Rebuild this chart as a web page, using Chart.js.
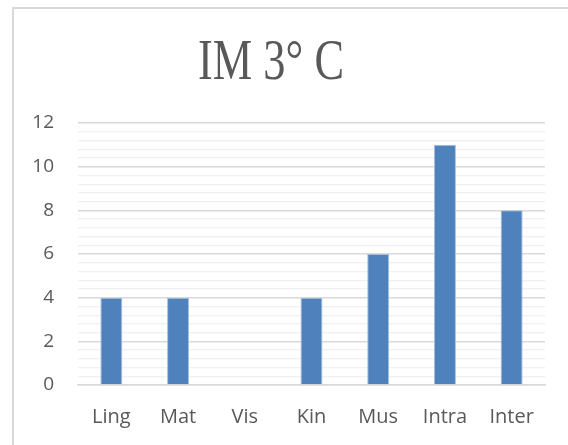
<!DOCTYPE html>
<html>
<head>
<meta charset="utf-8">
<script src="https://cdn.jsdelivr.net/npm/chart.js@4"></script>
<style>
  html, body { margin: 0; padding: 0; background: #fff; overflow: hidden; }
  #frame { position: absolute; left: 12px; top: 7px; width: 620px; height: 500px;
           border-left: 2px solid #d9d9d9; border-top: 2px solid #d9d9d9; }
  #wrap { position: absolute; left: 0; top: 0; width: 568px; height: 445px; }
</style>
</head>
<body>
<div id="frame"></div>
<div id="wrap"><canvas id="c" width="568" height="445"></canvas></div>
<script>
const categories = ["Ling", "Mat", "Vis", "Kin", "Mus", "Intra", "Inter"];
const values = [4, 4, 0, 4, 6, 11, 8];
const yMin = 0, yMax = 12, majorStep = 2, minorStep = 0.4;
const titleText = "IM 3° C";

const titlePlugin = {
  id: "condensedTitle",
  afterDraw(chart) {
    const ctx = chart.ctx;
    ctx.save();
    ctx.font = '57px "Liberation Serif"';
    ctx.fillStyle = "#595959";
    ctx.textAlign = "center";
    ctx.textBaseline = "alphabetic";
    ctx.translate(271, 79);
    ctx.scale(146 / ctx.measureText(titleText).width, 1);
    ctx.fillText(titleText, 0, 0);
    ctx.restore();
  }
};

new Chart(document.getElementById("c"), {
  type: "bar",
  data: {
    labels: categories,
    datasets: [{
      data: values,
      backgroundColor: "#4f81bd",
      borderColor: "#a7bfdd",
      borderWidth: 1,
      borderSkipped: "bottom",
      categoryPercentage: 1,
      barPercentage: 0.33
    }]
  },
  plugins: [titlePlugin],
  options: {
    responsive: false,
    animation: false,
    layout: { padding: { left: 0, right: 23, top: 123, bottom: 0 } },
    plugins: {
      legend: { display: false },
      tooltip: { enabled: false },
      title: { display: false }
    },
    scales: {
      x: {
        grid: { display: false, drawTicks: false },
        border: { display: true, color: "#d9d9d9", width: 1.5 },
        ticks: { color: "#595959", font: { family: "Open Sans", size: 20 }, padding: 20 },
        afterFit(s) { s.height = 60; }
      },
      y: {
        min: yMin, max: yMax,
        afterFit(s) { s.width = 78; },
        border: { display: false },
        grid: {
          drawTicks: false,
          color(ctx) {
            const v = Math.round(ctx.tick.value * 10);
            return v % (majorStep * 10) === 0 ? "#d9d9d9" : "#f0f0f0";
          },
          lineWidth(ctx) {
            const v = Math.round(ctx.tick.value * 10);
            return v % (majorStep * 10) === 0 ? 1.5 : 1.2;
          }
        },
        ticks: {
          stepSize: minorStep,
          autoSkip: false,
          color: "#595959",
          font: { family: "Open Sans", size: 19 },
          padding: 24,
          callback(v) {
            const r = Math.round(v * 10);
            return r % (majorStep * 10) === 0 ? String(Math.round(v)) : "";
          }
        }
      }
    }
  }
});
</script>
</body>
</html>
